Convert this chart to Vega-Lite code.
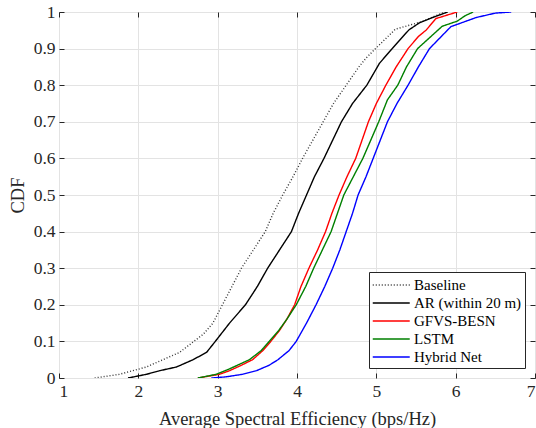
{
  "$schema": "https://vega.github.io/schema/vega-lite/v6.json",
  "width": 476,
  "height": 366,
  "autosize": {"type": "none"},
  "padding": {"left": 59, "top": 12, "right": 1, "bottom": 50},
  "background": "white",
  "config": {
    "font": "Liberation Serif",
    "view": {"stroke": "#262626", "strokeWidth": 1},
    "axis": {
      "labelFont": "Liberation Serif",
      "titleFont": "Liberation Serif",
      "labelFontSize": 17.5,
      "titleFontSize": 18.5,
      "labelColor": "#262626",
      "titleColor": "#262626",
      "titleFontWeight": "normal",
      "gridColor": "#e3e3e3",
      "gridWidth": 1,
      "tickColor": "#262626",
      "tickSize": -5,
      "domain": false
    },
    "legend": {
      "labelFont": "Liberation Serif",
      "labelFontSize": 15,
      "labelColor": "#000000"
    }
  },
  "data": {
    "values": [
      {"series": "Baseline", "x": 1.45, "cdf": 0},
      {"series": "Baseline", "x": 1.76, "cdf": 0.01},
      {"series": "Baseline", "x": 1.93, "cdf": 0.02},
      {"series": "Baseline", "x": 2.1, "cdf": 0.03},
      {"series": "Baseline", "x": 2.31, "cdf": 0.05},
      {"series": "Baseline", "x": 2.52, "cdf": 0.07},
      {"series": "Baseline", "x": 2.7, "cdf": 0.1},
      {"series": "Baseline", "x": 2.82, "cdf": 0.12},
      {"series": "Baseline", "x": 2.94, "cdf": 0.15},
      {"series": "Baseline", "x": 3.06, "cdf": 0.2},
      {"series": "Baseline", "x": 3.18, "cdf": 0.25},
      {"series": "Baseline", "x": 3.3, "cdf": 0.3},
      {"series": "Baseline", "x": 3.45, "cdf": 0.35},
      {"series": "Baseline", "x": 3.6, "cdf": 0.4},
      {"series": "Baseline", "x": 3.7, "cdf": 0.45},
      {"series": "Baseline", "x": 3.82, "cdf": 0.5},
      {"series": "Baseline", "x": 3.95, "cdf": 0.55},
      {"series": "Baseline", "x": 4.07, "cdf": 0.6},
      {"series": "Baseline", "x": 4.2, "cdf": 0.65},
      {"series": "Baseline", "x": 4.33, "cdf": 0.7},
      {"series": "Baseline", "x": 4.46, "cdf": 0.75},
      {"series": "Baseline", "x": 4.62, "cdf": 0.8},
      {"series": "Baseline", "x": 4.78, "cdf": 0.85},
      {"series": "Baseline", "x": 4.87, "cdf": 0.874},
      {"series": "Baseline", "x": 4.99, "cdf": 0.9},
      {"series": "Baseline", "x": 5.24, "cdf": 0.953},
      {"series": "Baseline", "x": 5.58, "cdf": 0.974},
      {"series": "Baseline", "x": 5.75, "cdf": 0.99},
      {"series": "Baseline", "x": 5.87, "cdf": 1.0},

      {"series": "AR (within 20 m)", "x": 1.87, "cdf": 0},
      {"series": "AR (within 20 m)", "x": 2.1, "cdf": 0.01},
      {"series": "AR (within 20 m)", "x": 2.27, "cdf": 0.02},
      {"series": "AR (within 20 m)", "x": 2.48, "cdf": 0.03},
      {"series": "AR (within 20 m)", "x": 2.69, "cdf": 0.05},
      {"series": "AR (within 20 m)", "x": 2.86, "cdf": 0.07},
      {"series": "AR (within 20 m)", "x": 2.97, "cdf": 0.1},
      {"series": "AR (within 20 m)", "x": 3.15, "cdf": 0.15},
      {"series": "AR (within 20 m)", "x": 3.35, "cdf": 0.2},
      {"series": "AR (within 20 m)", "x": 3.5, "cdf": 0.25},
      {"series": "AR (within 20 m)", "x": 3.63, "cdf": 0.3},
      {"series": "AR (within 20 m)", "x": 3.78, "cdf": 0.35},
      {"series": "AR (within 20 m)", "x": 3.93, "cdf": 0.4},
      {"series": "AR (within 20 m)", "x": 4.02, "cdf": 0.45},
      {"series": "AR (within 20 m)", "x": 4.12, "cdf": 0.5},
      {"series": "AR (within 20 m)", "x": 4.22, "cdf": 0.55},
      {"series": "AR (within 20 m)", "x": 4.34, "cdf": 0.6},
      {"series": "AR (within 20 m)", "x": 4.45, "cdf": 0.65},
      {"series": "AR (within 20 m)", "x": 4.56, "cdf": 0.7},
      {"series": "AR (within 20 m)", "x": 4.7, "cdf": 0.75},
      {"series": "AR (within 20 m)", "x": 4.88, "cdf": 0.8},
      {"series": "AR (within 20 m)", "x": 5.04, "cdf": 0.86},
      {"series": "AR (within 20 m)", "x": 5.2, "cdf": 0.9},
      {"series": "AR (within 20 m)", "x": 5.41, "cdf": 0.951},
      {"series": "AR (within 20 m)", "x": 5.54, "cdf": 0.97},
      {"series": "AR (within 20 m)", "x": 5.71, "cdf": 0.985},
      {"series": "AR (within 20 m)", "x": 5.9, "cdf": 1.0},

      {"series": "GFVS-BESN", "x": 2.75, "cdf": 0},
      {"series": "GFVS-BESN", "x": 3.02, "cdf": 0.01},
      {"series": "GFVS-BESN", "x": 3.15, "cdf": 0.02},
      {"series": "GFVS-BESN", "x": 3.3, "cdf": 0.035},
      {"series": "GFVS-BESN", "x": 3.44, "cdf": 0.05},
      {"series": "GFVS-BESN", "x": 3.57, "cdf": 0.075},
      {"series": "GFVS-BESN", "x": 3.67, "cdf": 0.1},
      {"series": "GFVS-BESN", "x": 3.78, "cdf": 0.13},
      {"series": "GFVS-BESN", "x": 3.87, "cdf": 0.16},
      {"series": "GFVS-BESN", "x": 3.97, "cdf": 0.2},
      {"series": "GFVS-BESN", "x": 4.05, "cdf": 0.25},
      {"series": "GFVS-BESN", "x": 4.15, "cdf": 0.3},
      {"series": "GFVS-BESN", "x": 4.26, "cdf": 0.35},
      {"series": "GFVS-BESN", "x": 4.36, "cdf": 0.4},
      {"series": "GFVS-BESN", "x": 4.44, "cdf": 0.45},
      {"series": "GFVS-BESN", "x": 4.53, "cdf": 0.5},
      {"series": "GFVS-BESN", "x": 4.63, "cdf": 0.55},
      {"series": "GFVS-BESN", "x": 4.74, "cdf": 0.6},
      {"series": "GFVS-BESN", "x": 4.82, "cdf": 0.65},
      {"series": "GFVS-BESN", "x": 4.9, "cdf": 0.7},
      {"series": "GFVS-BESN", "x": 5.0, "cdf": 0.75},
      {"series": "GFVS-BESN", "x": 5.12, "cdf": 0.8},
      {"series": "GFVS-BESN", "x": 5.25, "cdf": 0.85},
      {"series": "GFVS-BESN", "x": 5.4, "cdf": 0.9},
      {"series": "GFVS-BESN", "x": 5.53, "cdf": 0.933},
      {"series": "GFVS-BESN", "x": 5.63, "cdf": 0.951},
      {"series": "GFVS-BESN", "x": 5.75, "cdf": 0.982},
      {"series": "GFVS-BESN", "x": 6.02, "cdf": 1.0},

      {"series": "LSTM", "x": 2.75, "cdf": 0},
      {"series": "LSTM", "x": 2.98, "cdf": 0.01},
      {"series": "LSTM", "x": 3.15, "cdf": 0.025},
      {"series": "LSTM", "x": 3.3, "cdf": 0.04},
      {"series": "LSTM", "x": 3.4, "cdf": 0.05},
      {"series": "LSTM", "x": 3.55, "cdf": 0.075},
      {"series": "LSTM", "x": 3.65, "cdf": 0.1},
      {"series": "LSTM", "x": 3.77, "cdf": 0.13},
      {"series": "LSTM", "x": 3.87, "cdf": 0.16},
      {"series": "LSTM", "x": 3.99, "cdf": 0.2},
      {"series": "LSTM", "x": 4.11, "cdf": 0.25},
      {"series": "LSTM", "x": 4.21, "cdf": 0.3},
      {"series": "LSTM", "x": 4.32, "cdf": 0.35},
      {"series": "LSTM", "x": 4.43, "cdf": 0.4},
      {"series": "LSTM", "x": 4.51, "cdf": 0.45},
      {"series": "LSTM", "x": 4.59, "cdf": 0.5},
      {"series": "LSTM", "x": 4.71, "cdf": 0.55},
      {"series": "LSTM", "x": 4.83, "cdf": 0.6},
      {"series": "LSTM", "x": 4.93, "cdf": 0.65},
      {"series": "LSTM", "x": 5.03, "cdf": 0.7},
      {"series": "LSTM", "x": 5.14, "cdf": 0.76},
      {"series": "LSTM", "x": 5.27, "cdf": 0.8},
      {"series": "LSTM", "x": 5.38, "cdf": 0.85},
      {"series": "LSTM", "x": 5.52, "cdf": 0.9},
      {"series": "LSTM", "x": 5.83, "cdf": 0.961},
      {"series": "LSTM", "x": 6.02, "cdf": 0.975},
      {"series": "LSTM", "x": 6.12, "cdf": 0.99},
      {"series": "LSTM", "x": 6.22, "cdf": 1.0},

      {"series": "Hybrid Net", "x": 2.92, "cdf": 0},
      {"series": "Hybrid Net", "x": 3.1, "cdf": 0.003},
      {"series": "Hybrid Net", "x": 3.31, "cdf": 0.01},
      {"series": "Hybrid Net", "x": 3.49, "cdf": 0.02},
      {"series": "Hybrid Net", "x": 3.65, "cdf": 0.035},
      {"series": "Hybrid Net", "x": 3.76, "cdf": 0.05},
      {"series": "Hybrid Net", "x": 3.9, "cdf": 0.075},
      {"series": "Hybrid Net", "x": 3.99, "cdf": 0.1},
      {"series": "Hybrid Net", "x": 4.12, "cdf": 0.15},
      {"series": "Hybrid Net", "x": 4.24, "cdf": 0.2},
      {"series": "Hybrid Net", "x": 4.35, "cdf": 0.25},
      {"series": "Hybrid Net", "x": 4.45, "cdf": 0.3},
      {"series": "Hybrid Net", "x": 4.54, "cdf": 0.35},
      {"series": "Hybrid Net", "x": 4.62, "cdf": 0.4},
      {"series": "Hybrid Net", "x": 4.7, "cdf": 0.45},
      {"series": "Hybrid Net", "x": 4.77, "cdf": 0.5},
      {"series": "Hybrid Net", "x": 4.87, "cdf": 0.55},
      {"series": "Hybrid Net", "x": 4.96, "cdf": 0.6},
      {"series": "Hybrid Net", "x": 5.05, "cdf": 0.65},
      {"series": "Hybrid Net", "x": 5.14, "cdf": 0.7},
      {"series": "Hybrid Net", "x": 5.26, "cdf": 0.75},
      {"series": "Hybrid Net", "x": 5.4, "cdf": 0.8},
      {"series": "Hybrid Net", "x": 5.53, "cdf": 0.85},
      {"series": "Hybrid Net", "x": 5.67, "cdf": 0.9},
      {"series": "Hybrid Net", "x": 5.94, "cdf": 0.96},
      {"series": "Hybrid Net", "x": 6.26, "cdf": 0.985},
      {"series": "Hybrid Net", "x": 6.5, "cdf": 0.997},
      {"series": "Hybrid Net", "x": 6.7, "cdf": 1.0}
    ]
  },
  "layer": [
    {
      "mark": {"type": "line", "strokeWidth": 1.4, "clip": true},
      "encoding": {
        "x": {
          "field": "x", "type": "quantitative",
          "scale": {"domain": [1, 7], "nice": false, "zero": false},
          "axis": {"values": [1, 2, 3, 4, 5, 6, 7], "title": "Average Spectral Efficiency (bps/Hz)", "labelPadding": 9, "titlePadding": 10, "format": "d"}
        },
        "y": {
          "field": "cdf", "type": "quantitative",
          "scale": {"domain": [0, 1], "nice": false},
          "axis": {"values": [0, 0.1, 0.2, 0.3, 0.4, 0.5, 0.6, 0.7, 0.8, 0.9, 1], "title": "CDF", "labelPadding": 9, "titlePadding": 6, "format": "~g"}
        },
        "order": {"field": "cdf", "type": "quantitative"},
        "color": {
          "field": "series", "type": "nominal", "title": null,
          "scale": {
            "domain": ["Baseline", "AR (within 20 m)", "GFVS-BESN", "LSTM", "Hybrid Net"],
            "range": ["#333333", "#000000", "#ff0000", "#008000", "#0000ff"]
          },
          "legend": {
            "orient": "bottom-right", "offset": 10,
            "strokeColor": "#262626", "fillColor": "white",
            "padding": 3, "symbolType": "M-1,0H3", "symbolSize": 342,
            "symbolStrokeWidth": 1.4, "rowPadding": 0, "labelOffset": 22
          }
        },
        "strokeDash": {
          "field": "series", "type": "nominal", "title": null,
          "scale": {
            "domain": ["Baseline", "AR (within 20 m)", "GFVS-BESN", "LSTM", "Hybrid Net"],
            "range": [[1, 2], [1, 0], [1, 0], [1, 0], [1, 0]]
          },
          "legend": {
            "orient": "bottom-right", "offset": 10,
            "strokeColor": "#262626", "fillColor": "white",
            "padding": 3, "symbolType": "M-1,0H3", "symbolSize": 342,
            "symbolStrokeWidth": 1.4, "rowPadding": 0, "labelOffset": 22
          }
        }
      }
    },
    {
      "mark": {"type": "point", "opacity": 0},
      "encoding": {
        "x": {
          "field": "x", "type": "quantitative",
          "scale": {"domain": [1, 7], "nice": false, "zero": false},
          "axis": {"orient": "top", "values": [1, 2, 3, 4, 5, 6, 7], "labels": false, "title": null, "grid": false}
        },
        "y": {
          "field": "cdf", "type": "quantitative",
          "scale": {"domain": [0, 1], "nice": false},
          "axis": {"orient": "right", "values": [0, 0.1, 0.2, 0.3, 0.4, 0.5, 0.6, 0.7, 0.8, 0.9, 1], "labels": false, "title": null, "grid": false}
        }
      }
    }
  ],
  "resolve": {"axis": {"x": "independent", "y": "independent"}}
}
